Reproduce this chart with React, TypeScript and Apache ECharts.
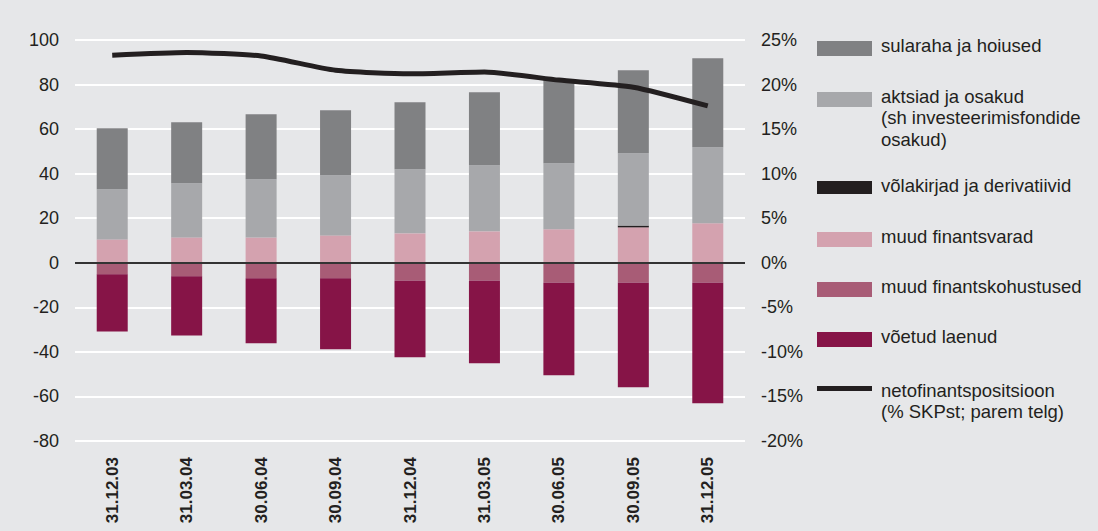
import React, { useEffect, useRef } from "react";
import * as echarts from "echarts";

const categories = ["31.12.03", "31.03.04", "30.06.04", "30.09.04", "31.12.04", "31.03.05", "30.06.05", "30.09.05", "31.12.05"];
const muudFinantsvarad = [10.5, 11.4, 11.4, 12.3, 13.2, 14.1, 15.0, 15.9, 17.7];
const volakirjad = [0, 0, 0, 0, 0, 0, 0, 0.8, 0];
const aktsiad = [22.5, 24.3, 26.1, 27.0, 28.8, 29.7, 29.7, 32.5, 34.2];
const sularaha = [27.4, 27.4, 29.2, 29.2, 30.1, 32.7, 37.3, 37.2, 39.9];
const muudKohustused = [-5.2, -6.1, -7.0, -7.0, -7.9, -7.9, -8.8, -8.8, -8.8];
const laenud = [-25.6, -26.5, -29.1, -31.8, -34.5, -37.2, -41.7, -47.1, -54.3];
const netoPositsioon = [23.3, 23.6, 23.2, 21.6, 21.2, 21.4, 20.5, 19.7, 17.6];

const C = {
  sularaha: "#808183",
  aktsiad: "#a7a8ab",
  volakirjad: "#231f20",
  varad: "#d4a2af",
  kohustused: "#a85c76",
  laenud: "#861447",
  line: "#231f20",
};

const FONT = "'Liberation Sans', Arial, sans-serif";
const TXT = "#231f20";

const legendItems = [
  { lines: ["sularaha ja hoiused"], color: C.sularaha, y: 41, h: 15 },
  { lines: ["aktsiad ja osakud", "(sh investeerimisfondide", "osakud)"], color: C.aktsiad, y: 92, h: 15 },
  { lines: ["võlakirjad ja derivatiivid"], color: C.volakirjad, y: 181, h: 13 },
  { lines: ["muud finantsvarad"], color: C.varad, y: 232, h: 15 },
  { lines: ["muud finantskohustused"], color: C.kohustused, y: 282, h: 15 },
  { lines: ["võetud laenud"], color: C.laenud, y: 332, h: 15 },
  { lines: ["netofinantspositsioon", "(% SKPst; parem telg)"], color: C.line, y: 386, h: 5 },
];

export default function App() {
  const ref = useRef<HTMLDivElement>(null);
  useEffect(() => {
    if (!ref.current) return;
    const chart = echarts.init(ref.current, null, { renderer: "svg" });
    const graphics: any[] = [];
    legendItems.forEach((it) => {
      graphics.push({
        type: "rect",
        shape: { x: 817, y: it.y, width: 55, height: it.h },
        style: { fill: it.color },
      });
      graphics.push({
        type: "text",
        x: 881,
        y: it.y - 6.5,
        style: {
          text: it.lines.join("\n"),
          fill: TXT,
          font: `18.5px ${FONT}`,
          lineHeight: 21.5,
        },
      });
    });
    const barSeries = (name: string, data: number[], color: string) => ({
      name,
      type: "bar",
      stack: "a",
      data,
      barWidth: 31,
      itemStyle: { color },
    });
    chart.setOption({
      animation: false,
      backgroundColor: "#e6e7e9",
      textStyle: { fontFamily: FONT },
      grid: { left: 75, right: 353, top: 40, bottom: 90, outerBoundsMode: "none", containLabel: false },
      xAxis: {
        type: "category",
        data: categories,
        axisLine: { show: false },
        axisTick: { show: false },
        axisLabel: {
          rotate: 90,
          fontWeight: "bold",
          fontSize: 17,
          color: TXT,
          fontFamily: FONT,
          margin: 16,
        },
      },
      yAxis: [
        {
          type: "value",
          min: -80,
          max: 100,
          interval: 20,
          axisLine: { show: false },
          axisTick: { show: false },
          splitLine: { lineStyle: { color: "#ffffff", width: 2 } },
          axisLabel: { fontSize: 18, color: TXT, fontFamily: FONT, margin: 16 },
        },
        {
          type: "value",
          min: -20,
          max: 25,
          interval: 5,
          axisLine: { show: false },
          axisTick: { show: false },
          splitLine: { show: false },
          axisLabel: { fontSize: 18, color: TXT, fontFamily: FONT, margin: 16, formatter: "{value}%" },
        },
      ],
      series: [
        {
          ...barSeries("muud finantsvarad", muudFinantsvarad, C.varad),
          markLine: {
            silent: true,
            symbol: "none",
            label: { show: false },
            lineStyle: { color: "#333333", width: 2, type: "solid" },
            data: [{ yAxis: 0 }],
          },
        },
        barSeries("võlakirjad ja derivatiivid", volakirjad, C.volakirjad),
        barSeries("aktsiad ja osakud (sh investeerimisfondide osakud)", aktsiad, C.aktsiad),
        barSeries("sularaha ja hoiused", sularaha, C.sularaha),
        barSeries("muud finantskohustused", muudKohustused, C.kohustused),
        barSeries("võetud laenud", laenud, C.laenud),
        {
          name: "netofinantspositsioon (% SKPst; parem telg)",
          type: "line",
          yAxisIndex: 1,
          data: netoPositsioon,
          symbol: "none",
          smooth: 0.2,
          lineStyle: { color: C.line, width: 5 },
          z: 5,
        },
      ],
      graphic: graphics,
    });
    return () => chart.dispose();
  }, []);
  return (
    <div
      ref={ref}
      style={{ position: "absolute", left: 0, top: 0, width: 1098, height: 531, background: "#e6e7e9" }}
    />
  );
}
